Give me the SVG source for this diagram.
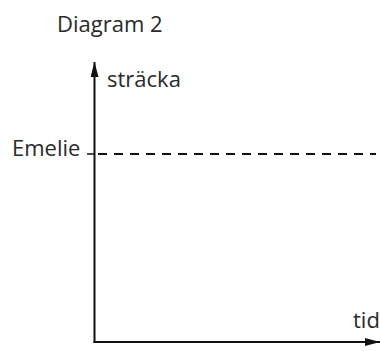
<svg xmlns="http://www.w3.org/2000/svg" width="380" height="351" viewBox="0 0 380 351">
<style>
.t{font-family:"Open Sans","Noto Sans",sans-serif;font-size:22px;fill:#2a2a2a}
.ax{stroke:#111;stroke-width:2;fill:none}
</style>
<defs>
<marker id="ah" markerWidth="15" markerHeight="8" refX="15" refY="4" orient="auto" markerUnits="userSpaceOnUse">
<path d="M0,0 L15,4 L0,8 Z" fill="#111"/>
</marker>
</defs>
<rect width="380" height="351" fill="#fff"/>
<text class="t" x="57" y="32">Diagram 2</text>
<g id="connectors">
<path class="ax" d="M94.5,343 L94.5,62" marker-end="url(#ah)"/>
<path class="ax" d="M93.5,342 L380,342" marker-end="url(#ah)"/>
<path d="M98,154 L376,154" stroke="#111" stroke-width="2" stroke-dasharray="9,7"/>
<path d="M87,154 L94,154" stroke="#111" stroke-width="1.5"/>
</g>
<g id="sträcka"><text class="t" x="107" y="87">sträcka</text></g>
<g id="emelie"><text class="t" x="12" y="156">Emelie</text></g>
<g id="tid"><text class="t" x="353" y="328">tid</text></g>
</svg>
